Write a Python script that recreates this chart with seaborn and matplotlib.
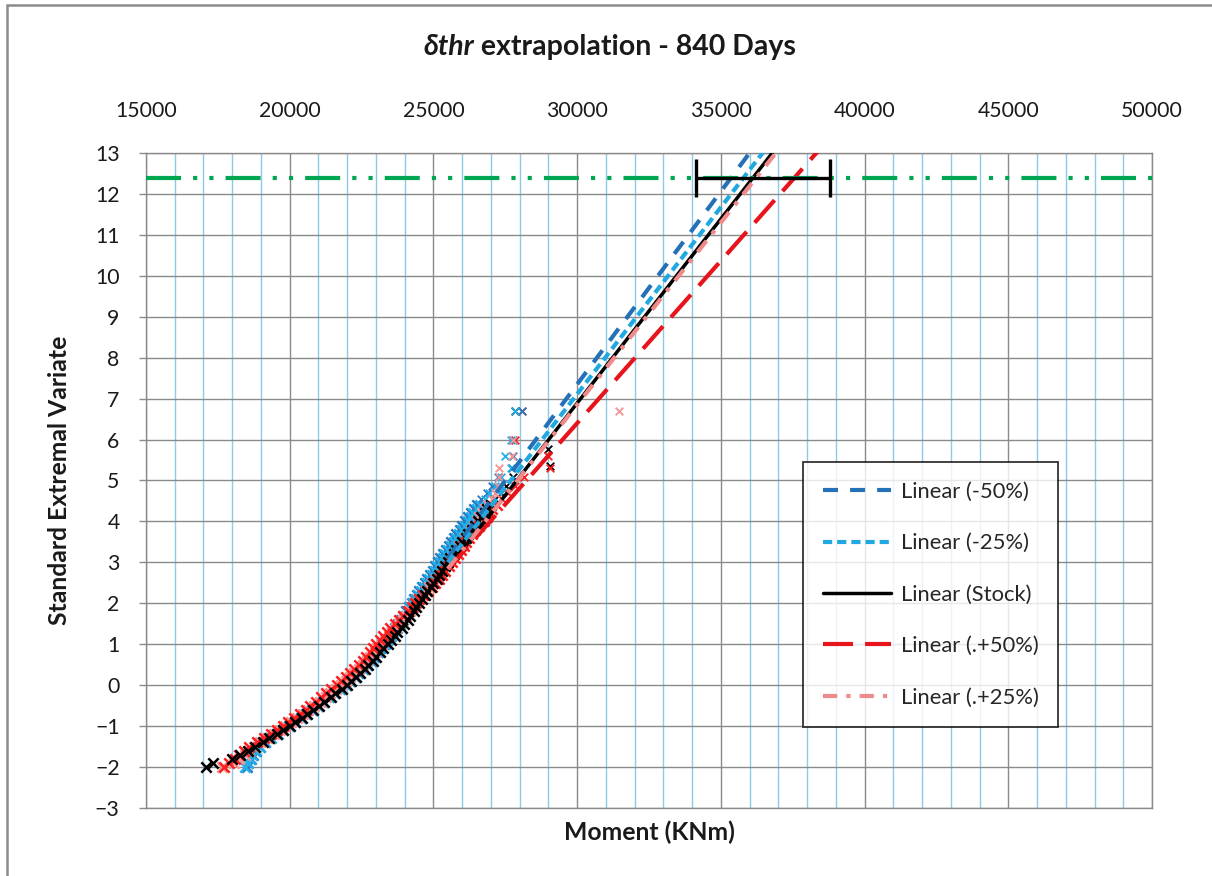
import numpy as np
import matplotlib
matplotlib.use("Agg")
import matplotlib.pyplot as plt
import seaborn as sns
from matplotlib.patches import Rectangle
from matplotlib.lines import Line2D
from matplotlib.ticker import MultipleLocator

# ---------------------------------------------------------------- data
# standard extremal variate (shared plotting positions for the main body)
evar = [-2.00, -1.90, -1.80, -1.70, -1.60, -1.50, -1.40, -1.30, -1.20, -1.10,
        -1.00, -0.90, -0.80, -0.70, -0.60, -0.50, -0.40, -0.30, -0.20, -0.10,
        0.00, 0.10, 0.20, 0.30, 0.40, 0.50, 0.60, 0.70, 0.80, 0.90,
        1.00, 1.10, 1.20, 1.30, 1.40, 1.50, 1.60, 1.70, 1.80, 1.90,
        2.00, 2.10, 2.20, 2.30, 2.40, 2.50, 2.60, 2.70, 2.80, 2.90,
        3.00, 3.10, 3.20, 3.30, 3.40, 3.50, 3.60, 3.70, 3.80, 3.90,
        4.00, 4.10, 4.20, 4.30, 4.40]

# moments (KNm) per case along the main body
m_minus50 = [18500, 18560, 18650, 18720, 18830, 18960, 19130, 19330, 19560, 19760,
             19980, 20170, 20390, 20570, 20780, 20980, 21160, 21370, 21550, 21740,
             21950, 22100, 22270, 22390, 22560, 22680, 22830, 22930, 23060, 23150,
             23280, 23370, 23480, 23570, 23680, 23770, 23870, 23950, 24060, 24140,
             24240, 24320, 24420, 24510, 24610, 24690, 24790, 24870, 24970, 25060,
             25160, 25240, 25340, 25430, 25530, 25610, 25720, 25800, 25910, 26000,
             26100, 26190, 26300, 26400, 26510]
m_minus25 = [18450, 18550, 18620, 18700, 18800, 18950, 19150, 19350, 19580, 19780,
             19990, 20180, 20400, 20580, 20790, 20990, 21170, 21380, 21560, 21760,
             21970, 22110, 22290, 22400, 22570, 22700, 22840, 22950, 23080, 23180,
             23310, 23400, 23520, 23610, 23730, 23820, 23930, 24010, 24120, 24200,
             24300, 24380, 24480, 24570, 24670, 24760, 24860, 24940, 25050, 25130,
             25230, 25320, 25420, 25500, 25610, 25700, 25800, 25890, 26000, 26090,
             26190, 26290, 26390, 26500, 26610]
m_stock = [17100, 17320, 18000, 18280, 18560, 18790, 19060, 19290, 19560, 19760,
           20010, 20190, 20420, 20590, 20810, 21020, 21190, 21420, 21590, 21810,
           22010, 22140, 22320, 22440, 22610, 22740, 22890, 23000, 23150, 23260,
           23410, 23510, 23650, 23750, 23890, 23990, 24110, 24190, 24310, 24390,
           24510, 24590, 24710, 24790, 24910, 24990, 25110, 25190, 25310, 25390,
           25510, 25590, 25710, 25790, 25910, 25990, 26120, 26210, 26340, 26430,
           26560, 26650, 26780, 26870, 27000]
m_plus50 = [17700, 17900, 18100, 18250, 18400, 18600, 18850, 19100, 19350, 19550,
            19750, 19950, 20150, 20350, 20550, 20700, 20900, 21100, 21250, 21450,
            21650, 21800, 21950, 22100, 22250, 22400, 22550, 22650, 22800, 22900,
            23000, 23150, 23250, 23400, 23500, 23650, 23800, 23950, 24100, 24250,
            24350, 24500, 24650, 24800, 24950, 25050, 25200, 25300, 25400, 25550,
            25650, 25750, 25850, 25950, 26050, 26150, 26250, 26350, 26450, 26600,
            26750, 26850, 26950, 27050, 27200]
m_plus25 = [17650, 18050, 18250, 18450, 18600, 18750, 18950, 19200, 19450, 19650,
            19850, 20050, 20250, 20450, 20650, 20850, 21050, 21250, 21400, 21600,
            21800, 21950, 22100, 22250, 22400, 22550, 22700, 22800, 22950, 23050,
            23200, 23300, 23450, 23550, 23700, 23800, 23950, 24050, 24200, 24300,
            24400, 24500, 24650, 24750, 24850, 24950, 25100, 25200, 25300, 25400,
            25500, 25600, 25700, 25800, 25900, 26000, 26100, 26200, 26300, 26400,
            26500, 26600, 26700, 26800, 26900]

# upper-tail points (largest events) per case
tail_y_minus50 = [4.55, 4.70, 4.87, 5.09, 5.31, 5.60, 6.00, 6.70]
tail_m_minus50 = [26650, 26850, 27050, 27250, 27730, 27770, 27770, 28080]
tail_y_minus25 = [4.55, 4.70, 4.87, 5.09, 5.31, 5.60, 6.00, 6.70]
tail_m_minus25 = [26780, 26950, 27150, 27350, 27700, 27490, 27700, 27840]
tail_y_stock = [4.55, 4.70, 4.87, 5.09, 5.36, 5.76, 6.00, 6.70]
tail_m_stock = [27140, 27340, 27510, 27760, 29060, 29000, 27770, 27840]
tail_y_plus50 = [4.55, 4.70, 4.87, 5.09, 5.31, 5.60, 6.00, 6.70]
tail_m_plus50 = [27400, 27600, 27850, 28150, 29060, 29000, 27840, 28080]
tail_y_plus25 = [4.55, 4.70, 4.87, 5.09, 5.31, 5.60, 6.00, 6.70]
tail_m_plus25 = [27050, 27150, 27250, 27280, 27280, 27750, 27770, 31450]

# linear trendlines: slope (1/KNm), intercept, first moment of the fitted range
trend_names = ["Linear (-50%)", "Linear (-25%)", "Linear (Stock)",
               "Linear (.+50%)", "Linear (.+25%)"]
trend_slope = [0.000942, 0.000913, 0.000900, 0.000793, 0.000890]
trend_icpt = [-20.91, -20.28, -20.11, -17.39, -19.85]
trend_start = [25500, 25500, 25500, 25500, 25500]
trend_end = 40000

# design level and moment band at that level
design_level = 12.40
band_center = 36470
band_half = 2330

# ---------------------------------------------------------------- style
sns.set_theme(style="white")
plt.rcParams["font.family"] = ["Lato", "DejaVu Sans"]

pt_colors = ["#2a78c2", "#1fb0ea", "#000000", "#ff1f1f", "#f59393"]
ln_colors = ["#2471b8", "#20a8e0", "#000000", "#e8141b", "#f08a8a"]
ln_width = [3.0, 3.0, 2.5, 3.0, 3.0]
ln_style = [(0, (3.6, 2.9)), (0, (2.2, 1.2)), "-", (0, (7.2, 2.9)),
            (0, (3.4, 2.2, 1.0, 2.2))]

grid_gray = "#8a8a8a"
grid_blue = "#8ccbe6"
txt = "#1a1a1a"

fig = plt.figure(figsize=(12.12, 8.76), dpi=100)
ax = fig.add_axes([0.12046, 0.07763, 0.83003, 0.74772])

# ---------------------------------------------------------------- scatter
bodies = [m_minus50, m_minus25, m_plus25, m_plus50, m_stock]
body_col = [pt_colors[0], pt_colors[1], pt_colors[4], pt_colors[3], pt_colors[2]]
tails = [(tail_m_stock, tail_y_stock, pt_colors[2]),
         (tail_m_plus50, tail_y_plus50, pt_colors[3]),
         (tail_m_minus50, tail_y_minus50, pt_colors[0]),
         (tail_m_minus25, tail_y_minus25, pt_colors[1]),
         (tail_m_plus25, tail_y_plus25, pt_colors[4])]

for mx, ty, c in tails:
    sns.scatterplot(x=mx, y=ty, marker="x", color=c, s=30, linewidth=1.3,
                    ax=ax, legend=False, zorder=3)
for mx, c in zip(bodies, body_col):
    sns.scatterplot(x=mx, y=evar, marker="x", color=c, s=55, linewidth=1.8,
                    ax=ax, legend=False, zorder=3)

# ---------------------------------------------------------------- trendlines
handles = []
for i in range(5):
    xs = np.array([trend_start[i], trend_end], dtype=float)
    ys = trend_icpt[i] + trend_slope[i] * xs
    sns.lineplot(x=xs, y=ys, ax=ax, color=ln_colors[i], lw=ln_width[i],
                 linestyle=ln_style[i], estimator=None, sort=False, zorder=4)
    ax.lines[-1].set_dash_capstyle("butt")
    handles.append(Line2D([], [], color=ln_colors[i], lw=ln_width[i],
                          linestyle=ln_style[i], dash_capstyle="butt"))

# design level line and band
ax.axhline(design_level, color="#00a651", lw=3.0,
           linestyle=(0, (8.4, 2.9, 1.0, 2.9, 1.0, 2.9)), zorder=4)
ax.errorbar([band_center], [design_level], xerr=[band_half], fmt="none",
            ecolor="black", elinewidth=2.4, capsize=14, capthick=2.4, zorder=5)

# ---------------------------------------------------------------- axes
ax.set_xlim(15000, 50000)
ax.set_ylim(-3, 13)
ax.xaxis.set_major_locator(MultipleLocator(5000))
ax.xaxis.set_minor_locator(MultipleLocator(1000))
ax.yaxis.set_major_locator(MultipleLocator(1))
ax.set_axisbelow(True)
ax.grid(which="minor", axis="x", color=grid_blue, lw=1.0)
ax.grid(which="major", axis="both", color=grid_gray, lw=1.0)
for sp in ax.spines.values():
    sp.set_color(grid_gray)
    sp.set_linewidth(1.0)
ax.xaxis.tick_top()
ax.tick_params(axis="x", which="both", length=0, pad=23, labelsize=15.3,
               labelcolor=txt)
ax.tick_params(axis="y", which="both", length=5, color=grid_gray, width=1,
               pad=14, labelsize=15.3, labelcolor=txt, left=True)
ax.set_xlabel("")
ax.set_ylabel("")

fig.text(0.0495, 0.452, "Standard Extremal Variate", rotation=90,
         ha="center", va="center", fontsize=17.8, fontweight="bold",
         color=txt)
fig.text(0.5355, 0.050, "Moment (KNm)", ha="center", va="center",
         fontsize=17.8, fontweight="bold", color=txt)

# title: italic symbol part followed by plain bold part
fig.canvas.draw()
r = fig.canvas.get_renderer()
t1 = fig.text(0, 0.946, "δthr", fontsize=20.5, fontweight="bold",
              fontstyle="italic", va="center", ha="left", color=txt)
t2 = fig.text(0, 0.946, " extrapolation - 840 Days", fontsize=20.5,
              fontweight="bold", va="center", ha="left", color=txt)
w1 = t1.get_window_extent(r).width / fig.bbox.width
w2 = t2.get_window_extent(r).width / fig.bbox.width
x0 = 0.503 - (w1 + w2) / 2
t1.set_x(x0)
t2.set_x(x0 + w1)

leg = ax.legend(handles, trend_names, loc="upper left",
                bbox_to_anchor=(0.653, 0.528), fontsize=15.8, frameon=True,
                fancybox=False, edgecolor="black", handlelength=3.1,
                handletextpad=0.45, labelspacing=1.43, borderpad=0.9,
                borderaxespad=0)
leg.get_frame().set_linewidth(1.3)
leg.set_zorder(6)

# outer chart border (only the left and top edges fall inside the image)
fig.patches.append(Rectangle((7 / 1212, -10 / 876), 1220 / 1212, 881 / 876,
                             transform=fig.transFigure, fill=False,
                             edgecolor="#8c8c8c", lw=1.8))

fig.savefig("out.png", dpi=100)
